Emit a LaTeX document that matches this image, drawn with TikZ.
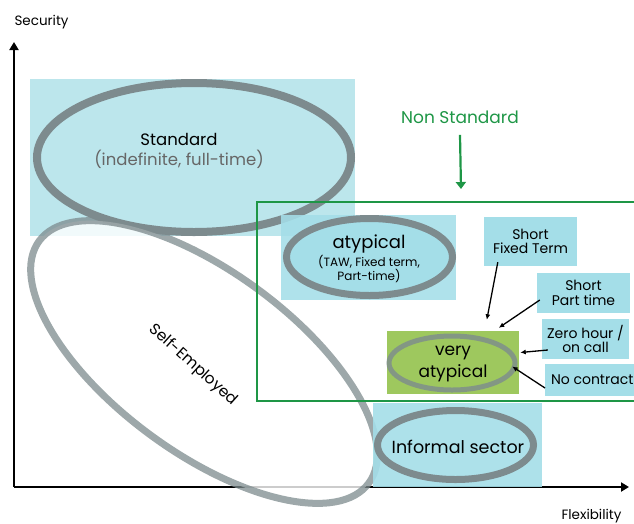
\documentclass[tikz,border=0pt]{standalone}
\usepackage{fontspec}
\setmainfont{Poppins}
\usetikzlibrary{arrows.meta,shapes.geometric}

\definecolor{paleblue}{HTML}{BCE6EC}
\definecolor{boxblue}{HTML}{A4DEE8}
\definecolor{ovalgrey}{HTML}{7D8B8E}
\definecolor{nsgreen}{HTML}{1E9646}
\definecolor{vagreen}{HTML}{9EC85E}

\tikzset{
  oval/.style={ellipse, draw=ovalgrey, line width=7pt, inner sep=0pt},
  tagbox/.style={fill=boxblue, inner sep=0pt, align=center,
    font=\fontsize{14}{14.5}\selectfont},
  ptr/.style={-{Latex[length=5.5pt,width=5pt]}, line width=1.3pt},
  axis/.style={-{Triangle[length=8pt,width=9pt]}, line width=2.2pt},
}

\begin{document}
\begin{tikzpicture}[x=1pt, y=-1pt]
  \useasboundingbox (0,0) rectangle (634,523);
  \clip (0,0) rectangle (634,523);

  %% ---------- standard ----------
  \fill[paleblue] (30,79) rectangle (355,236);
  \node[oval, line width=8pt, fill=paleblue, minimum width=314pt, minimum height=149pt]
    (std) at (194,157.5) {};
  \node[font=\fontsize{16.5}{22}\selectfont, align=center] (stdtxt) at (179,151)
    {Standard\\[-2pt]\textcolor{black!60}{(indefinite, full-time)}};

  %% ---------- axes ----------
  \coordinate (o) at (14,487);
  \coordinate (ytop) at (14,42);
  \coordinate (xend) at (629,487);
  \draw[axis] (o) -- (ytop);
  \draw[axis] (o) -- (xend);
  \node[font=\fontsize{13.5}{15}\selectfont, anchor=west] (sec) at (11,22) {Security};
  \node[font=\fontsize{13.5}{15}\selectfont, anchor=east] (flex) at (625,516) {Flexibility};

  %% ---------- self-employed ----------
  \node[ellipse, draw=ovalgrey, draw opacity=.75, line width=7pt, fill=white,
    fill opacity=.8, minimum width=409pt, minimum height=181pt, rotate=-36.3]
    (self) at (204,362) {};
  \node[font=\fontsize{15.5}{17}\selectfont, rotate=-42] (selftxt) at (193,365) {Self-Employed};

  %% ---------- non standard frame ----------
  \draw[nsgreen, line width=1.4pt] (650,202) -- (257,202) -- (257,401) -- (650,401);
  \node[nsgreen, font=\fontsize{17}{19}\selectfont] (ns) at (460,117) {Non Standard};
  \coordinate (nsdown) at (461,189);
  \draw[nsgreen, line width=2.2pt, -{Triangle[length=7pt,width=10pt]}]
    ([yshift=-8pt]ns.south) -- (nsdown);

  %% ---------- atypical ----------
  \fill[boxblue, opacity=.88] (281,215) rectangle (456,300);
  \node[oval, fill=boxblue, minimum width=166pt, minimum height=77pt] (aty) at (369.5,257) {};
  \node[font=\fontsize{18}{20}\selectfont] (atytxt) at (369,244) {atypical};
  \node[font=\fontsize{12}{13.5}\selectfont, align=center] (atysub) at (369,269)
    {(TAW, Fixed term,\\Part-time)};

  %% ---------- informal sector ----------
  \fill[boxblue, opacity=.9] (373,403) rectangle (542,487);
  \node[oval, minimum width=156pt, minimum height=69pt] (inf) at (455.5,445) {};
  \node[font=\fontsize{17.5}{19}\selectfont] (inftxt) at (458,447) {Informal sector};

  %% ---------- very atypical ----------
  \node[fill=vagreen, minimum width=132pt, minimum height=63pt] (va) at (453,362.5) {};
  \node[ellipse, draw=ovalgrey, draw opacity=.8, line width=5pt,
    minimum width=126pt, minimum height=54pt] (vaoval) at (452,363) {};
  \node[font=\fontsize{17}{22}\selectfont, align=center] (vatxt) at (453,364)
    {very\\atypical};

  %% ---------- forms ----------
  \node[tagbox, minimum width=93pt, minimum height=49pt] (sft) at (530.5,241.5)
    {Short\\Fixed Term};
  \node[tagbox, minimum width=93pt, minimum height=40pt] (spt) at (583.5,293)
    {Short\\Part time};
  \node[tagbox, minimum width=87pt, minimum height=40pt] (zh) at (585.5,339)
    {Zero hour /\\on call};
  \node[tagbox, minimum width=95pt, minimum height=32pt, anchor=west] (nc) at (545,380)
    {\hspace{5pt}No contract\hspace{6pt}};

  \draw[ptr] ([xshift=14pt,yshift=4pt]sft.south west) -- ([xshift=100pt,yshift=11pt]va.north west);
  \draw[ptr] ([xshift=3pt,yshift=-7pt]spt.west) -- ([xshift=112pt,yshift=3pt]va.north west);
  \draw[ptr] ([xshift=6pt,yshift=-11pt]zh.west) -- ([xshift=1pt,yshift=10pt]va.east);
  \draw[ptr] ([yshift=-8pt]nc.west) -- ([xshift=-7pt,yshift=-4pt]va.east);
\end{tikzpicture}
\end{document}
